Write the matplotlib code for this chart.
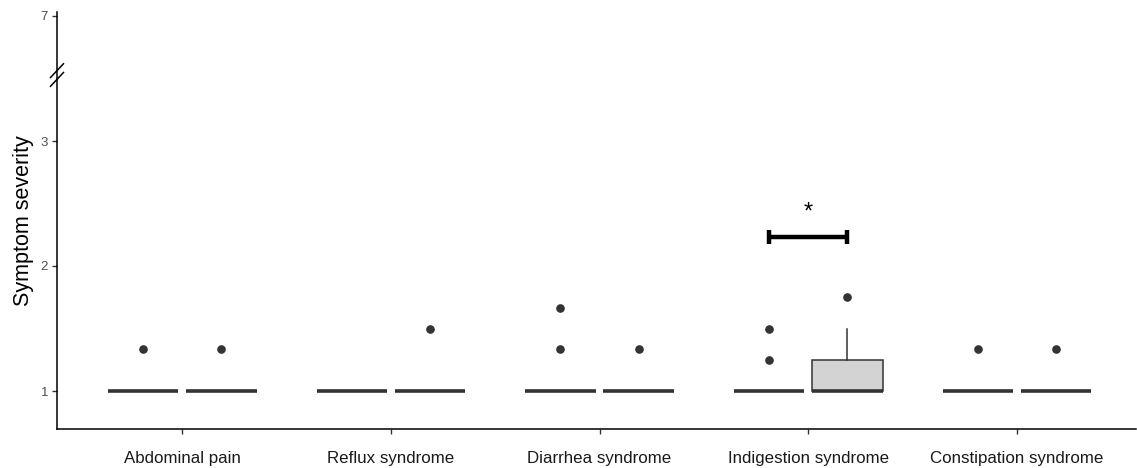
import matplotlib
matplotlib.use("Agg")
import matplotlib.pyplot as plt
import numpy as np

plt.rcParams['font.family'] = ['Liberation Sans', 'DejaVu Sans']

categories = ["Abdominal pain", "Reflux syndrome", "Diarrhea syndrome",
              "Indigestion syndrome", "Constipation syndrome"]
groups = ["Group A", "Group B"]

# box statistics per category for each group
g1_q1 = [1, 1, 1, 1, 1]
g1_med = [1, 1, 1, 1, 1]
g1_q3 = [1, 1, 1, 1, 1]
g1_whislo = [1, 1, 1, 1, 1]
g1_whishi = [1, 1, 1, 1, 1]
g1_fliers = [[1.333], [], [1.333, 1.667], [1.25, 1.5], [1.333]]

g2_q1 = [1, 1, 1, 1, 1]
g2_med = [1, 1, 1, 1, 1]
g2_q3 = [1, 1, 1, 1.25, 1]
g2_whislo = [1, 1, 1, 1, 1]
g2_whishi = [1, 1, 1, 1.5, 1]
g2_fliers = [[1.333], [1.5], [1.333], [1.75], [1.333]]

sig_category = "Indigestion syndrome"
sig_y = 2.23
sig_label = "*"

ytick_vals = [1, 2, 3, 7]

BREAK = 3.5
K = 1 / 7.0


def fwd(y):
    y = np.asarray(y, dtype=float)
    return np.where(y <= BREAK, y, BREAK + (y - BREAK) * K)


def inv(t):
    t = np.asarray(t, dtype=float)
    return np.where(t <= BREAK, t, BREAK + (t - BREAK) / K)


fig = plt.figure(figsize=(11.37, 4.68), dpi=100)
ax = fig.add_axes([57 / 1137, 1 - 429 / 468, 1 - 57 / 1137 - 0.001, (429 - 12) / 468])
ax.set_yscale('function', functions=(fwd, inv))

line_col = '#333333'
offset = 0.1875
width = 0.3375
x = np.arange(1, len(categories) + 1)


def make_stats(q1, med, q3, lo, hi, fl):
    out = []
    for i in range(len(q1)):
        out.append(dict(q1=q1[i], med=med[i], q3=q3[i], whislo=lo[i],
                        whishi=hi[i], fliers=fl[i]))
    return out


common = dict(widths=width, patch_artist=True, showcaps=False,
              whiskerprops=dict(color=line_col, lw=1.1),
              medianprops=dict(color=line_col, lw=2.6, solid_capstyle='butt'),
              flierprops=dict(marker='o', markerfacecolor=line_col,
                              markeredgecolor=line_col, markersize=5.2))

b1 = ax.bxp(make_stats(g1_q1, g1_med, g1_q3, g1_whislo, g1_whishi, g1_fliers),
            positions=x - offset,
            boxprops=dict(facecolor='white', edgecolor=line_col, lw=1.1),
            **common)
b2 = ax.bxp(make_stats(g2_q1, g2_med, g2_q3, g2_whislo, g2_whishi, g2_fliers),
            positions=x + offset,
            boxprops=dict(facecolor='#d3d3d3', edgecolor=line_col, lw=1.1),
            **common)

# significance bracket
si = categories.index(sig_category) + 1
ax.plot([si - offset, si + offset], [sig_y, sig_y], color='black', lw=3.2,
        solid_capstyle='butt')
for xx in (si - offset, si + offset):
    ax.plot([xx, xx], [sig_y - 0.055, sig_y + 0.055], color='black', lw=3.2,
            solid_capstyle='butt')
ax.text(si, sig_y + 0.2, sig_label, ha='center', va='center', fontsize=17)

ax.set_xlim(0.4, 5.57)
ax.set_ylim(0.696, float(inv(4.032)))
ax.set_xticks(x)
ax.set_xticklabels(categories, fontsize=12.2, color='#1a1a1a')
ax.set_yticks(ytick_vals)
ax.set_yticklabels([str(v) for v in ytick_vals], fontsize=9.5, color='#4d4d4d')
ax.minorticks_off()
ax.tick_params(axis='both', length=3.5, width=1.0, color='#333333')
ax.tick_params(axis='x', pad=12)
ax.tick_params(axis='y', pad=3)
ax.set_ylabel("Symptom severity", fontsize=15.5, labelpad=5)

for s in ('top', 'right'):
    ax.spines[s].set_visible(False)
for s in ('left', 'bottom'):
    ax.spines[s].set_color('black')
    ax.spines[s].set_linewidth(1.1)

# axis break marks
ybreak = float(inv(3.528))
trans = ax.get_yaxis_transform()
for dy in (-0.035, 0.035):
    yc = float(fwd(ybreak))
    ax.plot([-0.006, 0.006], [float(inv(yc + dy - 0.055)), float(inv(yc + dy + 0.055))],
            transform=trans, color='black', lw=1.1, clip_on=False)

fig.savefig("out.png", dpi=100)
